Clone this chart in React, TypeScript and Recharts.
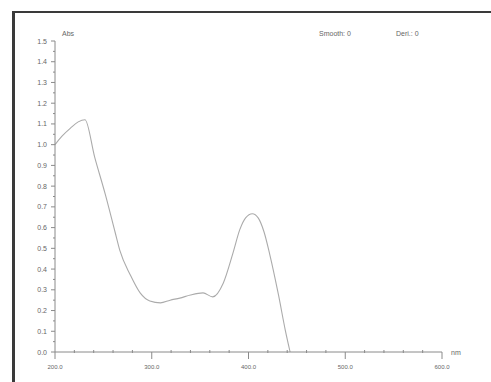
import React from "react"
import { LineChart, Line, XAxis, YAxis } from "recharts"

// spectrum
const wavelength = [200, 207, 216, 224, 231, 241, 252, 262, 267, 278, 288, 298, 309, 319, 329, 340, 353, 363, 374, 384, 391, 397, 404, 410, 416, 422, 431, 438, 443]
const absorbance = [1.0, 1.04, 1.08, 1.11, 1.12, 0.94, 0.76, 0.58, 0.49, 0.37, 0.285, 0.246, 0.237, 0.25, 0.26, 0.275, 0.285, 0.266, 0.333, 0.478, 0.59, 0.647, 0.667, 0.647, 0.58, 0.47, 0.275, 0.106, 0]

const xMajor = [200, 300, 400, 500, 600]
const xLabels = ["200.0", "300.0", "400.0", "500.0", "600.0"]
const xMinor = [200, 220, 240, 260, 280, 300, 320, 340, 360, 380, 400, 420, 440, 460, 480, 500, 520, 540, 560, 580, 600]
const yMinor = Array.from({ length: 31 }, (_, i) => Math.round(i * 5) / 100)
const yLabels = ["0.0", "0.1", "0.2", "0.3", "0.4", "0.5", "0.6", "0.7", "0.8", "0.9", "1.0", "1.1", "1.2", "1.3", "1.4", "1.5"]

const data = wavelength.map((w, i) => ({ w, a: absorbance[i] }))

const W = 491
const H = 382
const M = { top: 41, right: 49, bottom: 10, left: 15 }
const Y_W = 40
const AXIS_X = M.left + Y_W
const AXIS_Y = H - M.bottom - 20
const AXIS = "#8a8a8a"
const TXT = "#666666"

function XTick(props: any) {
  const { x, payload } = props
  const v = payload.value
  const idx = xMajor.indexOf(v)
  if (idx >= 0) {
    return (
      <g>
        <line x1={x} x2={x} y1={AXIS_Y} y2={AXIS_Y + 7} stroke={AXIS} />
        <text x={x} y={AXIS_Y + 17} textAnchor="middle" fontSize={6} fill={TXT} fontFamily="Liberation Sans">
          {xLabels[idx]}
        </text>
      </g>
    )
  }
  return <line x1={x} x2={x} y1={AXIS_Y - 2} y2={AXIS_Y + 1} stroke={AXIS} />
}

function YTick(props: any) {
  const { y, payload } = props
  const v = payload.value
  const n = Math.round(v * 100)
  if (n % 10 === 0) {
    return (
      <g>
        <line x1={AXIS_X - 4} x2={AXIS_X} y1={y} y2={y} stroke={AXIS} />
        <text x={AXIS_X - 8} y={y + 2.5} textAnchor="end" fontSize={7} fill={TXT} fontFamily="Liberation Sans">
          {yLabels[n / 10]}
        </text>
      </g>
    )
  }
  return <line x1={AXIS_X - 2} x2={AXIS_X} y1={y} y2={y} stroke={AXIS} />
}

export default function App() {
  return (
    <div style={{ position: "absolute", left: 0, top: 0, width: W, height: H, background: "#fff", overflow: "hidden" }}>
      <LineChart width={W} height={H} data={data} margin={M}>
        <XAxis
          dataKey="w"
          type="number"
          domain={[200, 600]}
          ticks={xMinor}
          interval={0}
          tickLine={false}
          tick={<XTick />}
          stroke={AXIS}
          height={20}
        />
        <YAxis
          type="number"
          domain={[0, 1.5]}
          ticks={yMinor}
          interval={0}
          tickLine={false}
          tick={<YTick />}
          stroke={AXIS}
          width={Y_W}
        />
        <Line type="monotone" dataKey="a" stroke="#ababab" strokeWidth={1.1} dot={false} isAnimationActive={false} />
      </LineChart>
      <div style={{ position: "absolute", left: 12, top: 11, width: 3, height: H, background: "#3a3a3a" }} />
      <div style={{ position: "absolute", left: 12, top: 11, width: W, height: 2, background: "#3a3a3a" }} />
      <div style={{ position: "absolute", left: 62, top: 30, fontSize: 7, color: TXT, fontFamily: "Liberation Sans" }}>Abs</div>
      <div style={{ position: "absolute", left: 451, top: 349, fontSize: 7, color: TXT, fontFamily: "Liberation Sans" }}>nm</div>
      <div style={{ position: "absolute", left: 319, top: 30, fontSize: 7, color: TXT, fontFamily: "Liberation Sans" }}>Smooth: 0</div>
      <div style={{ position: "absolute", left: 396, top: 30, fontSize: 7, color: TXT, fontFamily: "Liberation Sans" }}>Deri.: 0</div>
    </div>
  )
}
